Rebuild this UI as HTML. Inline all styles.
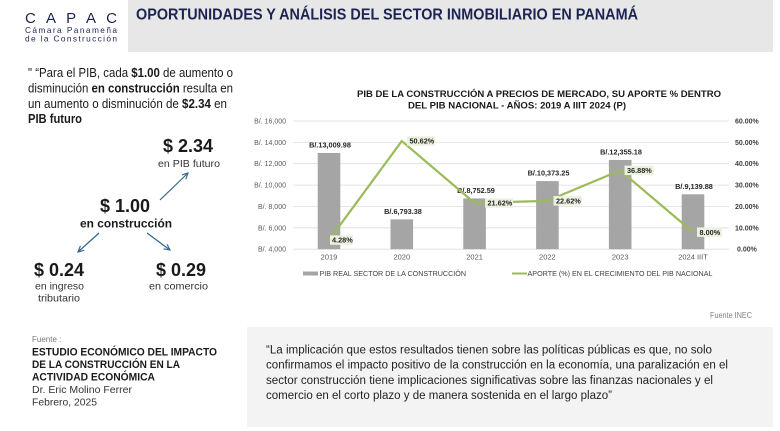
<!DOCTYPE html>
<html>
<head>
<meta charset="utf-8">
<style>
html,body{margin:0;padding:0;background:#fff;}
svg{display:block;}
text{font-family:"Liberation Sans",Arial,sans-serif;}
</style>
</head>
<body>
<svg width="780" height="431" viewBox="0 0 780 431" xmlns="http://www.w3.org/2000/svg">
<defs>
<marker id="ah" markerWidth="8" markerHeight="8" refX="6" refY="3" orient="auto" markerUnits="userSpaceOnUse">
<path d="M0,0 L6,3 L0,6" fill="none" stroke="#31658f" stroke-width="1.1"/>
</marker>
</defs>
<rect width="780" height="431" fill="#ffffff"/>

<!-- Header -->
<rect x="128" y="0" width="645" height="52" fill="#e7e7e7"/>
<text x="136" y="19.5" font-size="16" font-weight="bold" fill="#1d2453" textLength="502" lengthAdjust="spacingAndGlyphs">OPORTUNIDADES Y ANÁLISIS DEL SECTOR INMOBILIARIO EN PANAMÁ</text>

<!-- Logo -->
<text x="25" y="23" font-size="15" fill="#1d2453" textLength="92" lengthAdjust="spacing">C A P A C</text>
<text x="25" y="33" font-size="8.3" fill="#1d2453" textLength="92" lengthAdjust="spacing">Cámara Panameña</text>
<text x="25" y="41.5" font-size="8.3" fill="#1d2453" textLength="92" lengthAdjust="spacing">de la Construcción</text>

<!-- Left quote -->
<g font-size="12.5" fill="#1a1a1a">
<text x="28" y="77" textLength="205" lengthAdjust="spacingAndGlyphs">" “Para el PIB, cada <tspan font-weight="bold">$1.00</tspan> de aumento o</text>
<text x="28" y="92.5" textLength="205" lengthAdjust="spacingAndGlyphs">disminución <tspan font-weight="bold">en construcción</tspan> resulta en</text>
<text x="28" y="108" textLength="199" lengthAdjust="spacingAndGlyphs">un aumento o disminución de <tspan font-weight="bold">$2.34</tspan> en</text>
<text x="28" y="123" font-weight="bold" textLength="54" lengthAdjust="spacingAndGlyphs">PIB futuro</text>
</g>

<!-- Multiplier diagram -->
<g fill="#1a1a1a">
<text x="163" y="152" font-size="18" font-weight="bold" textLength="50" lengthAdjust="spacingAndGlyphs">$ 2.34</text>
<text x="158" y="167" font-size="10.5" fill="#333" textLength="62" lengthAdjust="spacingAndGlyphs">en PIB futuro</text>
<text x="100" y="212" font-size="18" font-weight="bold" textLength="50" lengthAdjust="spacingAndGlyphs">$ 1.00</text>
<text x="80" y="227.5" font-size="12" font-weight="bold" textLength="92" lengthAdjust="spacingAndGlyphs">en construcción</text>
<text x="34" y="276" font-size="18" font-weight="bold" textLength="50" lengthAdjust="spacingAndGlyphs">$ 0.24</text>
<text x="156" y="276" font-size="18" font-weight="bold" textLength="50" lengthAdjust="spacingAndGlyphs">$ 0.29</text>
<text x="35" y="289.3" font-size="10.5" fill="#333" textLength="49" lengthAdjust="spacingAndGlyphs">en ingreso</text>
<text x="38" y="301.7" font-size="10.5" fill="#333" textLength="42" lengthAdjust="spacingAndGlyphs">tributario</text>
<text x="149" y="289.3" font-size="10.5" fill="#333" textLength="59" lengthAdjust="spacingAndGlyphs">en comercio</text>
</g>
<g stroke="#31658f" stroke-width="1.2" fill="none">
<line x1="160" y1="200" x2="188" y2="173" marker-end="url(#ah)"/>
<line x1="99" y1="233" x2="78" y2="252" marker-end="url(#ah)"/>
<line x1="147" y1="233" x2="170" y2="250" marker-end="url(#ah)"/>
</g>

<!-- Chart title -->
<text x="357" y="97" font-size="9.6" font-weight="bold" fill="#1a1a1a" textLength="364" lengthAdjust="spacingAndGlyphs">PIB DE LA CONSTRUCCIÓN A PRECIOS DE MERCADO, SU APORTE % DENTRO</text>
<text x="408" y="108.5" font-size="9.6" font-weight="bold" fill="#1a1a1a" textLength="218" lengthAdjust="spacingAndGlyphs">DEL PIB NACIONAL - AÑOS: 2019 A IIIT 2024 (P)</text>

<!-- Gridlines -->
<g stroke="#dedede" stroke-width="0.8">
<line x1="293" y1="121" x2="729" y2="121"/>
<line x1="293" y1="142.4" x2="729" y2="142.4"/>
<line x1="293" y1="163.7" x2="729" y2="163.7"/>
<line x1="293" y1="185.1" x2="729" y2="185.1"/>
<line x1="293" y1="206.5" x2="729" y2="206.5"/>
<line x1="293" y1="227.8" x2="729" y2="227.8"/>
<line x1="293" y1="249.2" x2="729" y2="249.2"/>
</g>

<!-- Left axis labels -->
<g font-size="7" fill="#595959" text-anchor="end">
<text x="286" y="123.5">B/. 16,000</text>
<text x="286" y="144.9">B/. 14,000</text>
<text x="286" y="166.2">B/. 12,000</text>
<text x="286" y="187.6">B/. 10,000</text>
<text x="286" y="209">B/. 8,000</text>
<text x="286" y="230.3">B/. 6,000</text>
<text x="286" y="251.7">B/. 4,000</text>
</g>
<!-- Right axis labels -->
<g font-size="7" font-weight="bold" fill="#404040">
<text x="735" y="123.5">60.00%</text>
<text x="735" y="144.9">50.00%</text>
<text x="735" y="166.2">40.00%</text>
<text x="735" y="187.6">30.00%</text>
<text x="735" y="209">20.00%</text>
<text x="735" y="230.3">10.00%</text>
<text x="737" y="251.7">0.00%</text>
</g>

<!-- Bars -->
<g fill="#a5a5a5">
<rect x="317.7" y="152.95" width="22.6" height="96.25"/>
<rect x="390.5" y="219.36" width="22.6" height="29.84"/>
<rect x="463.3" y="198.43" width="22.6" height="50.77"/>
<rect x="536.1" y="181.11" width="22.6" height="68.09"/>
<rect x="608.9" y="159.94" width="22.6" height="89.26"/>
<rect x="681.7" y="194.29" width="22.6" height="54.91"/>
</g>

<!-- Bar labels -->
<g font-size="7.3" font-weight="bold" fill="#262626" text-anchor="middle">
<text x="330" y="147.3">B/.13,009.98</text>
<text x="403" y="213.8">B/.6,793.38</text>
<text x="476" y="192.9">B/.8,752.59</text>
<text x="548.5" y="175.6">B/.10,373.25</text>
<text x="621" y="154.4">B/.12,355.18</text>
<text x="694" y="188.8">B/.9,139.88</text>
</g>

<!-- Line -->
<polyline points="329,240.05 401.8,141.04 474.6,203 547.4,200.87 620.2,170.4 693,232.1" fill="none" stroke="#9bbb59" stroke-width="2.2" stroke-linejoin="round"/>

<!-- Percent labels -->
<g fill="#ebf1de">
<rect x="330" y="235.3" width="23" height="9.5"/>
<rect x="407" y="136.3" width="28" height="9.5"/>
<rect x="485" y="198.2" width="28" height="9.5"/>
<rect x="553.5" y="196.1" width="28.5" height="9.5"/>
<rect x="624.5" y="165.6" width="29" height="9.5"/>
<rect x="697" y="227.4" width="25" height="9.5"/>
</g>
<g font-size="7.3" font-weight="bold" fill="#262626">
<text x="332" y="242.7">4.28%</text>
<text x="409.5" y="143.7">50.62%</text>
<text x="487.5" y="205.6">21.62%</text>
<text x="556" y="203.5">22.62%</text>
<text x="627" y="173">36.88%</text>
<text x="699.5" y="234.8">8.00%</text>
</g>

<!-- X labels -->
<g font-size="7.5" fill="#595959" text-anchor="middle">
<text x="329" y="259.5">2019</text>
<text x="401.8" y="259.5">2020</text>
<text x="474.6" y="259.5">2021</text>
<text x="547.4" y="259.5">2022</text>
<text x="620.2" y="259.5">2023</text>
<text x="693" y="259.5">2024 IIIT</text>
</g>

<!-- Legend -->
<rect x="303" y="271.5" width="15" height="4" fill="#a5a5a5"/>
<text x="319.5" y="276" font-size="7.3" fill="#404040" textLength="146.5" lengthAdjust="spacingAndGlyphs">PIB REAL SECTOR DE LA CONSTRUCCIÓN</text>
<line x1="512" y1="273.5" x2="527" y2="273.5" stroke="#9bbb59" stroke-width="2"/>
<text x="527.5" y="276" font-size="7.3" fill="#404040" textLength="185" lengthAdjust="spacingAndGlyphs">APORTE (%) EN EL CRECIMIENTO DEL PIB NACIONAL</text>

<text x="710" y="318" font-size="8.5" fill="#808080" textLength="42" lengthAdjust="spacingAndGlyphs">Fuente INEC</text>

<!-- Bottom-left source -->
<text x="32" y="342" font-size="8" fill="#777">Fuente :</text>
<g font-size="11" font-weight="bold" fill="#1a1a1a">
<text x="32" y="355.7" textLength="185" lengthAdjust="spacingAndGlyphs">ESTUDIO ECONÓMICO DEL IMPACTO</text>
<text x="32" y="368" textLength="148" lengthAdjust="spacingAndGlyphs">DE LA CONSTRUCCIÓN EN LA</text>
<text x="32" y="380.5" textLength="123" lengthAdjust="spacingAndGlyphs">ACTIVIDAD ECONÓMICA</text>
</g>
<text x="32" y="393" font-size="10.5" fill="#333" textLength="100" lengthAdjust="spacingAndGlyphs">Dr. Eric Molino Ferrer</text>
<text x="32" y="405.5" font-size="10.5" fill="#333" textLength="65" lengthAdjust="spacingAndGlyphs">Febrero, 2025</text>

<!-- Bottom-right quote box -->
<rect x="247" y="327" width="526" height="100" fill="#f3f3f3"/>
<g font-size="11.5" fill="#1f1f1f">
<text x="266" y="353.5" textLength="446" lengthAdjust="spacingAndGlyphs">“La implicación que estos resultados tienen sobre las políticas públicas es que, no solo</text>
<text x="266" y="368.7" textLength="462" lengthAdjust="spacingAndGlyphs">confirmamos el impacto positivo de la construcción en la economía, una paralización en el</text>
<text x="266" y="384" textLength="447" lengthAdjust="spacingAndGlyphs">sector construcción tiene implicaciones significativas sobre las finanzas nacionales y el</text>
<text x="266" y="399" textLength="346" lengthAdjust="spacingAndGlyphs">comercio en el corto plazo y de manera sostenida en el largo plazo”</text>
</g>
</svg>
</body>
</html>
